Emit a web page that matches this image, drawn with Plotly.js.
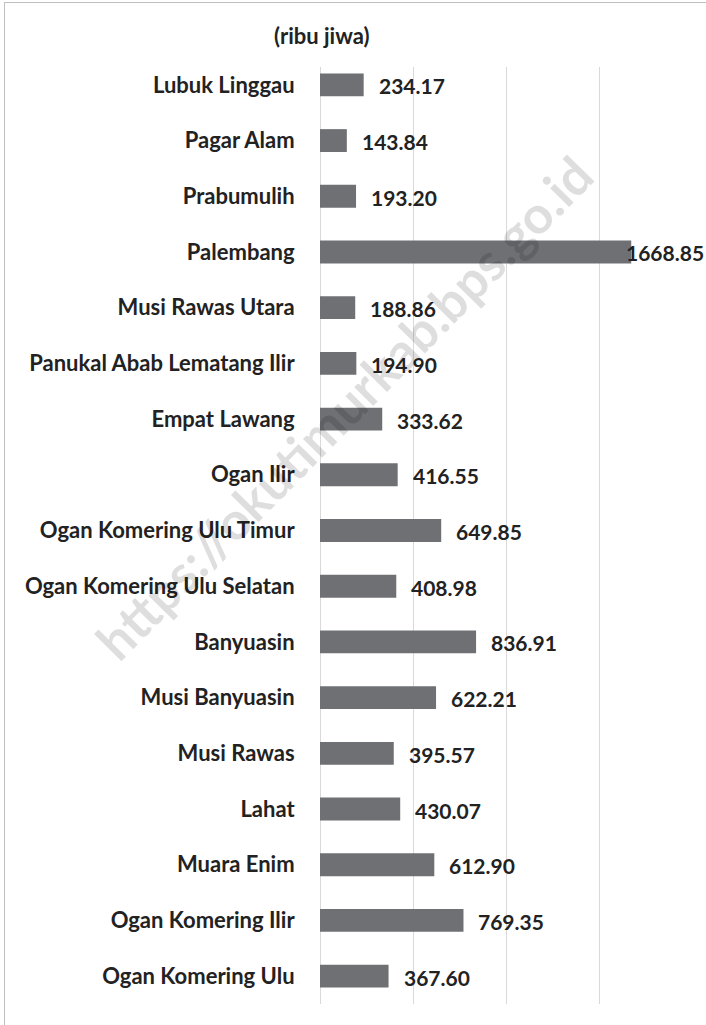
<!DOCTYPE html>
<html><head><meta charset="utf-8">
<script src="https://cdn.plot.ly/plotly-3.0.1.min.js"></script>
<style>
html,body{margin:0;padding:0;background:#fff;overflow:hidden;}
#frame{position:absolute;left:4px;top:2px;width:710px;height:1030px;border-left:1px solid #bfbfbf;border-top:1px solid #bfbfbf;}
#chart{position:absolute;left:0;top:0;width:706px;height:1025px;}
</style></head>
<body>
<div id="frame"></div>
<div id="chart"></div>
<script>
const regions = ["Ogan Komering Ulu","Ogan Komering Ilir","Muara Enim","Lahat","Musi Rawas","Musi Banyuasin","Banyuasin","Ogan Komering Ulu Selatan","Ogan Komering Ulu Timur","Ogan Ilir","Empat Lawang","Panukal Abab Lematang Ilir","Musi Rawas Utara","Palembang","Prabumulih","Pagar Alam","Lubuk Linggau"];
const population = [367.60,769.35,612.90,430.07,395.57,622.21,836.91,408.98,649.85,416.55,333.62,194.90,188.86,1668.85,193.20,143.84,234.17];
const valueLabels = population.map(v => v.toFixed(2));
const unitTitle = "(ribu jiwa)";
const watermark = "https://okutimurkab.bps.go.id";

const FONT = "Lato, 'Open Sans', sans-serif";
const trace = {
  type: 'bar', orientation: 'h',
  y: regions, x: population,
  marker: {color: '#6f7074'},
  hoverinfo: 'none'
};
const annotations = [{
  xref: 'paper', yref: 'paper', x: 0.065, y: 0.63, xanchor: 'center', yanchor: 'middle',
  text: '<b>' + watermark + '</b>', showarrow: false, textangle: -45.4,
  font: {family: FONT, size: 52, color: 'rgba(0,0,0,0.13)'}
}];
population.forEach((v, i) => annotations.push({
  x: v, y: regions[i], xref: 'x', yref: 'y',
  text: valueLabels[i], showarrow: false,
  xanchor: 'left', xshift: v > 1500 ? -7 : 13, yshift: -1,
  font: {family: FONT, size: 21, color: '#222', weight: 'bold'}
}));
annotations.push({
  xref: 'paper', yref: 'paper', x: 0.005, y: 1, xanchor: 'center', yanchor: 'middle',
  text: '<b>' + unitTitle + '</b>', showarrow: false, yshift: 22,
  font: {family: FONT, size: 22, color: '#222'}
});
const layout = {
  width: 706, height: 1025,
  margin: {l: 320, r: 13, t: 57, b: 21},
  paper_bgcolor: 'rgba(0,0,0,0)', plot_bgcolor: 'rgba(0,0,0,0)',
  bargap: 0.59,
  showlegend: false,
  xaxis: {range: [0, 2000], dtick: 500, showticklabels: false, showgrid: true,
    gridcolor: '#d9d9d9', gridwidth: 1, zeroline: true, zerolinecolor: '#d9d9d9', zerolinewidth: 1,
    showline: false, fixedrange: true},
  yaxis: {type: 'category', categoryorder: 'array', categoryarray: regions,
    ticks: 'outside', ticklen: 20, tickcolor: 'rgba(0,0,0,0)', showline: false, showgrid: false,
    tickfont: {family: FONT, size: 22, color: '#222', weight: 'bold'}, fixedrange: true},
  shapes: [{type: 'rect', xref: 'paper', yref: 'paper', x0: -0.01, x1: 1.01, y0: 0.9895, y1: 1.002,
    fillcolor: '#ffffff', line: {width: 0}, layer: 'above'}],
  annotations: annotations
};
Plotly.newPlot('chart', [trace], layout, {displayModeBar: false, staticPlot: true});
</script>
</body></html>
